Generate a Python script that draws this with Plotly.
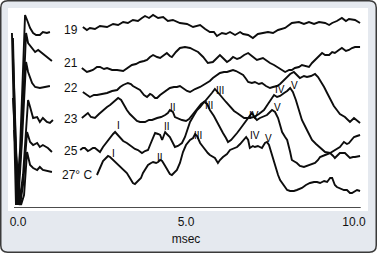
import plotly.graph_objects as go

# ---- data (time in msec, amplitude in arbitrary offset units) ----
temps = ["19", "21", "22", "23", "25", "27° C"]

# early segments (stimulus artifact + first response), per temperature
early_19 = [(-0.18,175),(-0.06,3),(0.06,58),(0.21,193),(0.27,188),(0.36,180),(0.45,175),(0.54,173),(0.65,173),(0.74,176),(0.86,175),(0.95,176)]
early_21 = [(-0.15,170),(-0.03,3),(0.09,58),(0.24,175),(0.30,165),(0.42,160),(0.51,156),(0.60,158),(0.71,155),(0.80,153),(0.89,150),(1.01,147)]
early_22 = [(-0.15,153),(0.00,3),(0.12,68),(0.24,146),(0.30,136),(0.42,125),(0.51,121),(0.65,120),(0.80,121),(0.95,122)]
early_23 = [(-0.15,110),(0.03,3),(0.15,33),(0.30,108),(0.36,101),(0.45,90),(0.57,91),(0.65,86),(0.74,90),(0.86,86),(0.95,85),(1.04,88)]
early_25 = [(-0.12,78),(0.06,3),(0.15,23),(0.27,76),(0.36,66),(0.45,63),(0.57,65),(0.65,61),(0.74,63),(0.89,60),(1.01,56)]
early_27 = [(-0.09,58),(0.09,3),(0.18,13),(0.27,56),(0.36,43),(0.45,40),(0.57,38),(0.65,41),(0.74,38),(0.89,37),(1.01,36)]

# later segments (waves I-V)
late_19 = [(1.93,181),(2.05,178),(2.14,180),(2.29,179),(2.44,182),(2.65,181),(2.83,184),(2.98,183),(3.13,186),(3.27,185),(3.42,188),(3.57,187),(3.69,190),(3.78,192),(3.90,190),(4.02,193),(4.17,190),(4.32,191),(4.46,187),(4.61,188),(4.82,185),(5.03,184),(5.21,181),(5.42,183),(5.57,179),(5.71,176),(5.83,176),(5.92,172),(6.07,175),(6.19,174),(6.31,176),(6.46,173),(6.61,176),(6.70,174),(6.85,173),(6.99,170),(7.14,174),(7.29,175),(7.44,176),(7.59,175),(7.74,178),(7.95,180),(8.15,185),(8.36,186),(8.51,184),(8.66,186),(8.81,184),(8.96,186),(9.14,185),(9.26,183),(9.35,185),(9.49,187),(9.64,190),(9.76,187),(9.85,189),(10.03,188),(10.18,185)]
late_21 = [(1.90,140),(2.05,136),(2.14,137),(2.23,138),(2.35,141),(2.44,141),(2.56,139),(2.65,140),(2.80,138),(2.95,138),(3.13,137),(3.27,140),(3.39,143),(3.51,144),(3.63,146),(3.75,147),(3.84,148),(3.93,151),(4.02,153),(4.14,151),(4.23,150),(4.35,153),(4.43,155),(4.52,152),(4.58,151),(4.70,156),(4.82,160),(4.97,161),(5.12,160),(5.24,158),(5.36,156),(5.51,151),(5.65,145),(5.80,146),(5.92,150),(6.01,153),(6.13,149),(6.22,146),(6.31,148),(6.40,151),(6.52,149),(6.61,150),(6.73,153),(6.85,155),(6.96,152),(7.11,148),(7.29,150),(7.41,147),(7.50,145),(7.62,143),(7.71,141),(7.83,138),(7.95,136),(8.07,138),(8.15,138),(8.24,140),(8.36,141),(8.45,143),(8.57,142),(8.66,141),(8.75,145),(8.84,148),(8.93,151),(9.05,155),(9.14,153),(9.26,153),(9.35,156),(9.43,155),(9.55,158),(9.64,160),(9.76,157),(9.85,158),(9.94,160),(10.03,161),(10.18,161)]
late_22 = [(1.93,116),(2.05,113),(2.14,111),(2.26,113),(2.35,113),(2.50,114),(2.65,115),(2.80,117),(2.95,118),(3.04,121),(3.13,123),(3.27,125),(3.36,124),(3.42,122),(3.54,120),(3.63,118),(3.75,113),(3.84,111),(3.93,114),(3.99,113),(4.08,110),(4.14,110),(4.23,113),(4.32,115),(4.43,118),(4.52,120),(4.64,121),(4.73,121),(4.82,122),(4.91,120),(5.03,117),(5.12,116),(5.27,119),(5.42,121),(5.51,123),(5.62,125),(5.71,127),(5.80,130),(5.92,133),(6.01,135),(6.13,136),(6.22,136),(6.31,137),(6.40,138),(6.49,137),(6.55,136),(6.64,134),(6.70,133),(6.79,129),(6.85,126),(6.96,125),(7.05,126),(7.17,124),(7.26,125),(7.38,122),(7.50,120),(7.59,121),(7.71,122),(7.80,124),(7.92,128),(8.01,132),(8.10,134),(8.21,136),(8.30,133),(8.39,130),(8.51,132),(8.60,131),(8.72,132),(8.84,134),(8.93,131),(8.99,128),(9.11,121),(9.20,115),(9.29,109),(9.40,102),(9.49,98),(9.58,94),(9.73,91),(9.82,88),(9.88,86),(10.00,90),(10.09,87),(10.18,85)]
late_23 = [(1.90,90),(1.99,93),(2.08,95),(2.17,91),(2.29,90),(2.41,94),(2.53,98),(2.65,101),(2.74,103),(2.86,107),(2.98,110),(3.07,108),(3.15,103),(3.24,98),(3.33,94),(3.42,91),(3.54,87),(3.63,86),(3.78,86),(3.90,88),(3.99,88),(4.14,90),(4.26,91),(4.38,93),(4.46,95),(4.52,98),(4.61,96),(4.67,91),(4.79,89),(4.88,88),(5.00,87),(5.09,89),(5.21,94),(5.33,99),(5.45,104),(5.57,107),(5.68,111),(5.77,115),(5.86,119),(5.95,116),(6.04,112),(6.19,106),(6.31,101),(6.43,97),(6.52,95),(6.64,92),(6.73,90),(6.88,90),(7.02,91),(7.17,94),(7.32,98),(7.44,104),(7.53,109),(7.62,113),(7.71,111),(7.80,112),(7.92,115),(8.01,117),(8.10,120),(8.18,116),(8.27,108),(8.36,98),(8.45,88),(8.60,78),(8.75,68),(8.87,64),(8.96,61),(9.05,58),(9.14,56),(9.29,55),(9.43,58),(9.58,61),(9.70,66),(9.79,64),(9.85,65),(9.94,69),(10.00,71),(10.09,72),(10.18,73)]
late_25 = [(1.85,58),(1.93,60),(1.99,60),(2.08,57),(2.14,58),(2.23,60),(2.29,60),(2.38,57),(2.44,56),(2.53,61),(2.62,65),(2.74,71),(2.83,74),(2.89,76),(2.98,73),(3.04,71),(3.13,67),(3.24,65),(3.33,63),(3.39,61),(3.48,59),(3.57,58),(3.69,55),(3.78,57),(3.87,58),(3.93,63),(3.99,68),(4.08,75),(4.17,74),(4.23,73),(4.29,68),(4.38,76),(4.43,74),(4.52,71),(4.61,65),(4.67,61),(4.76,62),(4.88,65),(4.97,71),(5.03,78),(5.12,86),(5.24,93),(5.33,98),(5.42,101),(5.54,106),(5.63,104),(5.71,98),(5.83,92),(5.92,86),(6.01,80),(6.10,75),(6.19,70),(6.25,66),(6.34,68),(6.43,71),(6.52,75),(6.61,79),(6.70,83),(6.79,87),(6.85,90),(6.96,95),(7.05,90),(7.11,88),(7.20,90),(7.26,91),(7.35,92),(7.41,93),(7.50,96),(7.56,98),(7.65,96),(7.74,90),(7.80,83),(7.86,76),(7.95,71),(8.01,68),(8.10,56),(8.15,48),(8.30,45),(8.39,42),(8.51,41),(8.66,43),(8.75,44),(8.84,45),(8.93,48),(8.99,51),(9.14,53),(9.29,55),(9.38,52),(9.43,50),(9.52,53),(9.58,55),(9.73,55),(9.82,52),(9.88,50),(9.97,51),(10.03,51),(10.18,52)]
late_27 = [(2.35,33),(2.44,40),(2.53,47),(2.62,50),(2.68,52),(2.74,51),(2.83,48),(2.92,45),(3.04,41),(3.13,38),(3.24,35),(3.33,30),(3.42,25),(3.48,24),(3.57,27),(3.66,30),(3.72,35),(3.81,40),(3.87,43),(3.96,45),(4.02,46),(4.11,45),(4.17,46),(4.23,48),(4.29,47),(4.38,42),(4.43,39),(4.52,34),(4.58,33),(4.67,36),(4.73,38),(4.82,45),(4.91,56),(5.00,63),(5.12,68),(5.21,70),(5.27,74),(5.33,72),(5.42,65),(5.51,61),(5.57,58),(5.65,55),(5.71,53),(5.80,51),(5.86,50),(5.95,45),(6.01,48),(6.10,51),(6.22,54),(6.31,58),(6.43,60),(6.52,61),(6.61,64),(6.70,68),(6.79,71),(6.85,68),(6.90,60),(6.99,62),(7.05,61),(7.14,62),(7.26,60),(7.35,65),(7.41,66),(7.47,63),(7.56,53),(7.65,41),(7.74,33),(7.80,28),(7.92,22),(8.01,18),(8.10,17),(8.21,17),(8.30,18),(8.45,20),(8.57,23),(8.69,25),(8.81,26),(8.90,26),(8.99,25),(9.11,27),(9.20,26),(9.29,30),(9.35,30),(9.43,23),(9.49,21),(9.58,20),(9.70,18),(9.79,18),(9.88,15),(9.94,15),(10.03,17),(10.09,18),(10.18,17)]

# temperature label anchors (left edge, msec / amplitude)
temp_label_x = [1.31, 1.31, 1.31, 1.31, 1.31, 1.25]
temp_label_y = [178, 145, 120, 89, 57, 33]

# wave labels (I-V)
wave_text = ["I", "I", "II", "II", "II", "III", "III", "III", "IV", "IV", "IV", "V", "V", "V"]
wave_x = [2.98, 2.83, 4.61, 4.43, 4.23, 6.01, 5.68, 5.36, 7.80, 7.02, 7.05, 8.24, 7.71, 7.47]
wave_y = [83, 55, 101, 82, 51, 118, 103, 73, 119, 93, 73, 123, 101, 70]

tick_vals = [0, 5, 10]
tick_text = ["0.0", "5.0", "10.0"]

# ---- figure ----
W, H = 377, 253
ML, MR, MT, MB = 11, 16, 8, 45
PW, PH = W - ML - MR, H - MT - MB

def px_to_paper(px, py):
    return (px - ML) / PW, (H - MB - py) / PH

def rounded_path(x0, y0, x1, y1, r):
    # pixel rectangle -> paper path with rounded corners
    pts = []
    ax, ay = px_to_paper(x0 + r, y0); pts.append(f"M{ax},{ay}")
    bx, by = px_to_paper(x1 - r, y0); pts.append(f"L{bx},{by}")
    cx, cy = px_to_paper(x1, y0); dx, dy = px_to_paper(x1, y0 + r); pts.append(f"Q{cx},{cy} {dx},{dy}")
    ex, ey = px_to_paper(x1, y1 - r); pts.append(f"L{ex},{ey}")
    fx, fy = px_to_paper(x1, y1); gx, gy = px_to_paper(x1 - r, y1); pts.append(f"Q{fx},{fy} {gx},{gy}")
    hx, hy = px_to_paper(x0 + r, y1); pts.append(f"L{hx},{hy}")
    ix, iy = px_to_paper(x0, y1); jx, jy = px_to_paper(x0, y1 - r); pts.append(f"Q{ix},{iy} {jx},{jy}")
    kx, ky = px_to_paper(x0, y0 + r); pts.append(f"L{kx},{ky}")
    lx, ly = px_to_paper(x0, y0); pts.append(f"Q{lx},{ly} {ax},{ay} Z")
    return " ".join(pts)

fig = go.Figure()
for seg in [early_19, early_21, early_22, early_23, early_25, early_27,
            late_19, late_21, late_22, late_23, late_25, late_27]:
    xs = [p[0] for p in seg]
    ys = [p[1] for p in seg]
    fig.add_trace(go.Scatter(x=xs, y=ys, mode="lines",
                             line=dict(color="#0d0d0d", width=1.9),
                             hoverinfo="skip", showlegend=False))

font_family = "Liberation Sans, Arial, Helvetica, sans-serif"
for t, x, y in zip(temps, temp_label_x, temp_label_y):
    fig.add_annotation(x=x, y=y, text=t, showarrow=False, xanchor="left", yanchor="middle",
                       font=dict(family=font_family, size=12, color="#111111"))
for t, x, y in zip(wave_text, wave_x, wave_y):
    fig.add_annotation(x=x, y=y, text=t, showarrow=False, xanchor="center", yanchor="middle",
                       font=dict(family=font_family, size=10, color="#000000"))

x0p, _ = px_to_paper(8, 0)
x1p, _ = px_to_paper(368, 0)
_, y0p = px_to_paper(0, 211)
_, y1p = px_to_paper(0, 8)

fig.update_layout(
    width=W, height=H, autosize=False,
    margin=dict(l=ML, r=MR, t=MT, b=MB, pad=0),
    paper_bgcolor="white", plot_bgcolor="rgba(0,0,0,0)",
    font=dict(family=font_family, size=12, color="#111111"),
    shapes=[
        dict(type="path", xref="paper", yref="paper", path=rounded_path(0.75, 0.75, 376.25, 252.25, 7),
             fillcolor="#e5e9ef", line=dict(color="#3a3a3a", width=1.5), layer="below"),
        dict(type="rect", xref="paper", yref="paper", x0=x0p, x1=x1p, y0=y0p, y1=y1p,
             fillcolor="white", line=dict(width=0), layer="below"),
        dict(type="line", xref="x", yref="y", x0=-0.12, x1=10.2, y0=0, y1=0,
             line=dict(color="#111111", width=1.5)),
    ],
    xaxis=dict(range=[(ML - 18) / 33.6, (W - MR - 18) / 33.6], tickvals=tick_vals, ticktext=tick_text,
               showgrid=False, zeroline=False, showline=False, ticks="outside", ticklen=3,
               tickcolor="rgba(0,0,0,0)", tickfont=dict(size=12),
               title=dict(text="msec", font=dict(size=12), standoff=6)),
    yaxis=dict(range=[0, PH], visible=False, fixedrange=True),
)

fig.write_html("out.html")
